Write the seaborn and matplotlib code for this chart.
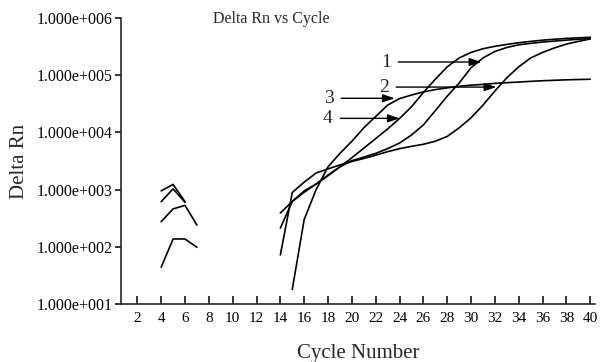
import numpy as np
import pandas as pd
import matplotlib
matplotlib.use("Agg")
import matplotlib.pyplot as plt
from matplotlib.ticker import FixedLocator, FixedFormatter, NullLocator
import seaborn as sns

# ---- data -------------------------------------------------------------
# Baseline fragments (early cycles)
early_cycles = [4, 5, 6, 7]
early_a = [950, 1230, 615, np.nan]
early_b = [615, 1030, 600, np.nan]
early_c = [275, 460, 530, 240]
early_d = [44, 137, 137, 98]

# Amplification curves (cycles 14-40)
late_cycles = list(range(14, 41))
curve_1 = [213, 620, 950, 1250, 1800, 2500, 3200, 3700, 4300, 5200, 6500, 9000,
           13500, 24000, 43000, 73000, 135000, 200000, 260000, 305000, 340000,
           360000, 380000, 395000, 410000, 425000, 440000]
curve_2 = [72, 890, 1350, 1950, 2300, 2700, 3100, 3500, 4000, 4600, 5200, 5700,
           6200, 7000, 8500, 12000, 18000, 30000, 53000, 90000, 140000, 200000,
           250000, 300000, 350000, 390000, 430000]
curve_3 = [np.nan, 18, 300, 1000, 2500, 4300, 7000, 12000, 19000, 30000, 39000,
           45000, 51000, 56000, 60000, 64000, 67000, 69000, 72000, 74000, 76000,
           78000, 80000, 81500, 83000, 84000, 85000]
curve_4 = [390, 620, 900, 1250, 1750, 2500, 3600, 5300, 7800, 11500, 17500, 28000,
           50000, 85000, 140000, 200000, 250000, 290000, 320000, 345000, 370000,
           390000, 410000, 425000, 440000, 450000, 460000]

curve_names = ["1", "2", "3", "4"]
x_ticks = list(range(2, 41, 2))
y_ticks = [1e1, 1e2, 1e3, 1e4, 1e5, 1e6]
y_tick_labels = ["1.000e+001", "1.000e+002", "1.000e+003",
                 "1.000e+004", "1.000e+005", "1.000e+006"]

# ---- long-form table ----------------------------------------------------
traces = [
    ("base_a", early_cycles, early_a),
    ("base_b", early_cycles, early_b),
    ("base_c", early_cycles, early_c),
    ("base_d", early_cycles, early_d),
    ("1", late_cycles, curve_1),
    ("2", late_cycles, curve_2),
    ("3", late_cycles, curve_3),
    ("4", late_cycles, curve_4),
]
df = pd.concat(
    [pd.DataFrame({"cycle": c, "delta_rn": v, "trace": n}) for n, c, v in traces],
    ignore_index=True,
).dropna()

# ---- style ------------------------------------------------------------
sns.set_style("ticks")
plt.rcParams["font.family"] = ["Liberation Serif", "DejaVu Serif"]
plt.rcParams["axes.linewidth"] = 1.2

fig = plt.figure(figsize=(6.01, 3.62), dpi=100)
ax = fig.add_axes([121 / 601, 1 - 304 / 362, 474 / 601, 286 / 362])

sns.lineplot(data=df, x="cycle", y="delta_rn", units="trace", estimator=None,
             color="black", linewidth=1.2, ax=ax, legend=False)

ax.set_yscale("log")
ax.set_ylim(1e1, 1e6)
ax.set_xlim(0.63, 40.4)

ax.xaxis.set_major_locator(FixedLocator(x_ticks))
ax.yaxis.set_major_locator(FixedLocator(y_ticks))
ax.yaxis.set_major_formatter(FixedFormatter(y_tick_labels))
ax.yaxis.set_minor_locator(NullLocator())
ax.xaxis.set_minor_locator(NullLocator())

ax.tick_params(axis="x", direction="in", length=6, width=1.1, pad=6,
               labelsize=11, colors="black")
ax.tick_params(axis="y", direction="out", length=4, width=1.1, pad=2,
               labelsize=11.4, colors="black")

for side in ("top", "right"):
    ax.spines[side].set_visible(False)

ax.set_xlabel("Cycle Number", fontsize=15)
ax.set_ylabel("Delta Rn", fontsize=15)
ax.xaxis.set_label_coords(0.5, -0.14)
ax.yaxis.set_label_coords(-0.194, 0.5)

ax.text(0.194, 0.981, "Delta Rn vs Cycle", transform=ax.transAxes,
        fontsize=11.5, ha="left", va="baseline")

# Curve labels with arrows
arrow_style = dict(arrowstyle="-|>,head_length=0.6,head_width=0.2",
                   color="black", lw=1.0, mutation_scale=12,
                   shrinkA=3, shrinkB=0)
label_spots = {
    "1": ((22.85, 1.70e5), (30.87, 1.70e5)),
    "2": ((22.68, 6.2e4), (32.13, 6.2e4)),
    "3": ((18.08, 3.95e4), (23.6, 3.95e4)),
    "4": ((17.99, 1.76e4), (24.02, 1.76e4)),
}
for name in curve_names:
    text_xy, tip_xy = label_spots[name]
    ax.annotate(name, xy=tip_xy, xytext=text_xy, ha="center", va="center",
                fontsize=14, arrowprops=arrow_style)

fig.savefig("out.png", dpi=100)
